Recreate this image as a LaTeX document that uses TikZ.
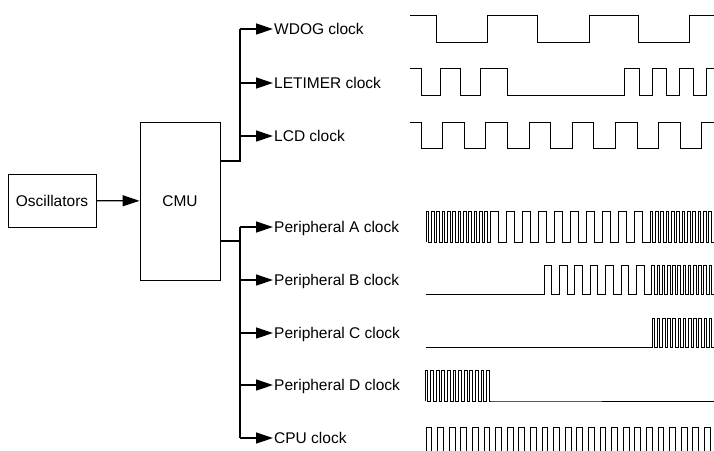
\documentclass[tikz,border=0pt]{standalone}
\usepackage{fontspec}
\setmainfont{Liberation Sans}
\usetikzlibrary{arrows.meta,positioning}

\begin{document}
\begin{tikzpicture}[
        x=1pt, y=-1pt,
        block/.style={
            draw=black,
            line width=0.9pt,
            inner sep=0pt,
            font=\fontsize{15.5}{17}\selectfont
        },
        clk/.style={
            anchor=west,
            inner sep=1pt,
            text height=11pt,
            text depth=0.5pt,
            font=\fontsize{15.5}{17}\selectfont
        },
        bus/.style={line width=1.8pt},
        feed/.style={line width=1.3pt, -{Triangle[length=17pt,width=11pt]}},
        wave/.style={line width=1pt, line join=miter}
    ]
    \clip (0,0) rectangle (714,450);

    % Blöcke
    \node[block, minimum width=88pt, minimum height=53pt]  (osc) at (52,200.5) {Oscillators};
    \node[block, minimum width=80pt, minimum height=158pt] (cmu) at (180,201)  {CMU};
    \draw[feed] (osc) -- (cmu);

    % Takte
    \node[clk] (wdog)    at (273,29)  {WDOG clock};
    \node[clk] (letimer) at (273,83)  {LETIMER clock};
    \node[clk] (lcd)     at (273,136) {LCD clock};
    \node[clk] (pera)    at (273,227) {Peripheral A clock};
    \node[clk] (perb)    at (273,280) {Peripheral B clock};
    \node[clk] (perc)    at (273,333) {Peripheral C clock};
    \node[clk] (perd)    at (273,385) {Peripheral D clock};
    \node[clk] (cpu)     at (273,438) {CPU clock};

    % Verteiler
    \coordinate (hi) at (240,161);
    \coordinate (lo) at (240,241);
    \draw[bus] (cmu.east |- hi) -- (hi) -- (hi |- wdog.west);
    \draw[bus] (cmu.east |- lo) -- (lo);
    \draw[bus] (lo |- pera.west) -- (lo |- cpu.west);
    \foreach \n in {wdog,letimer,lcd}
        \draw[feed] (hi |- \n.west) -- (\n.west);
    \foreach \n in {pera,perb,perc,perd,cpu}
        \draw[feed] (lo |- \n.west) -- (\n.west);

    % Signale
    \draw[wave] (410,15) -| (436,42) -| (487,15) -| (537,42) -| (589,15)
        -| (638,42) -| (689,15) -- (714,15);
    \draw[wave] (410,68) -| (421,95) -| (440,68) -| (460,95) -| (480,68)
        -| (507,95) -| (624,68) -| (639,95) -| (652,68) -| (666,95)
        -| (679,68) -| (693,95) -| (706,68) -- (714,68);
    \draw[wave] (410,122) -- (421,122)
        \foreach \k in {1,...,7} { -- ++(0,26) -- ++(21.6,0) -- ++(0,-26) -- ++(21.6,0) };

    \draw[wave] (426,242)
        \foreach \k in {1,...,12} { -- ++(0,-31) -- ++(2.67,0) -- ++(0,31) -- ++(2.67,0) }
        \foreach \k in {1,...,10} { -- ++(0,-31) -- ++(8,0) -- ++(0,31) -- ++(8,0) }
        \foreach \k in {1,...,13} { -- ++(0,-31) -- ++(2.67,0) -- ++(0,31) -- ++(2.67,0) };
    \draw[wave] (426,294) -- (544,294)
        \foreach \k in {1,...,7} { -- ++(0,-29) -- ++(7.7,0) -- ++(0,29) -- ++(7.7,0) }
        \foreach \k in {1,...,12} { -- ++(0,-29) -- ++(2.6,0) -- ++(0,29) -- ++(2.6,0) };
    \draw[wave] (426,347) -- (652,347)
        \foreach \k in {1,...,12} { -- ++(0,-29) -- ++(2.6,0) -- ++(0,29) -- ++(2.6,0) };
    \draw[wave] (425,401)
        \foreach \k in {1,...,12} { -- ++(0,-31) -- ++(2.8,0) -- ++(0,31) -- ++(2.8,0) }
        -- (714,401);
    \draw[wave] (426,458)
        \foreach \k in {1,...,25} { -- ++(0,-31) -- ++(5.8,0) -- ++(0,31) -- ++(5.8,0) };

\end{tikzpicture}
\end{document}
